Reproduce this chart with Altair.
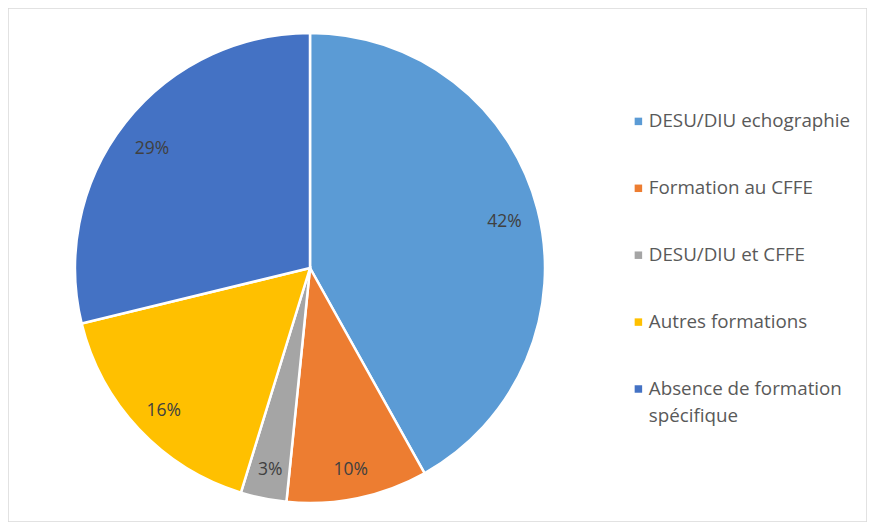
import altair as alt
import pandas as pd

categories = ["DESU/DIU echographie", "Formation au CFFE", "DESU/DIU et CFFE",
              "Autres formations", "Absence de formation spécifique"]
values = [41.9, 9.7, 3.15, 16.45, 28.8]
labels = ["42%", "10%", "3%", "16%", "29%"]
colors = ["#5B9BD5", "#ED7D31", "#A5A5A5", "#FFC000", "#4472C4"]

df = pd.DataFrame({"cat": categories, "val": values, "label": labels,
                   "order": list(range(len(values)))})

cx, cy = 302, 260
FONT = "Open Sans"
FS = 17.5
LFS = 18.8

base = alt.Chart(df).encode(
    theta=alt.Theta("val:Q", stack=True),
    order=alt.Order("order:Q"),
)

pie = base.mark_arc(outerRadius=235, stroke="white", strokeWidth=2.5).encode(
    x=alt.value(cx), y=alt.value(cy),
    color=alt.Color(
        "cat:N",
        scale=alt.Scale(domain=categories, range=colors),
        sort=categories,
        legend=alt.Legend(
            title=None, orient="none", legendX=621, legendY=104, padding=0,
            symbolType="square", symbolSize=56, symbolStrokeWidth=0,
            labelFontSize=LFS, labelFont=FONT, labelColor="#595959",
            labelLimit=400, rowPadding=65.7 - LFS, labelOffset=1,
            labelExpr="datum.label == 'Absence de formation spécifique' ? ['Absence de formation', 'spécifique'] : datum.label",
        ),
    ),
)

text = base.mark_text(radius=201, dy=5, fontSize=FS, font=FONT, color="#404040").encode(
    x=alt.value(cx), y=alt.value(cy),
    text="label:N",
)

chart = (pie + text).properties(
    width=859, height=514,
    autosize=alt.AutoSizeParams(type="fit", contains="padding"),
    padding=0,
).configure(
    style={"guide-label": {"lineHeight": 27}}
).configure_view(stroke="#D9D9D9", strokeWidth=1.5)

chart.save("out.html", embed_options={"renderer": "svg", "actions": False})
